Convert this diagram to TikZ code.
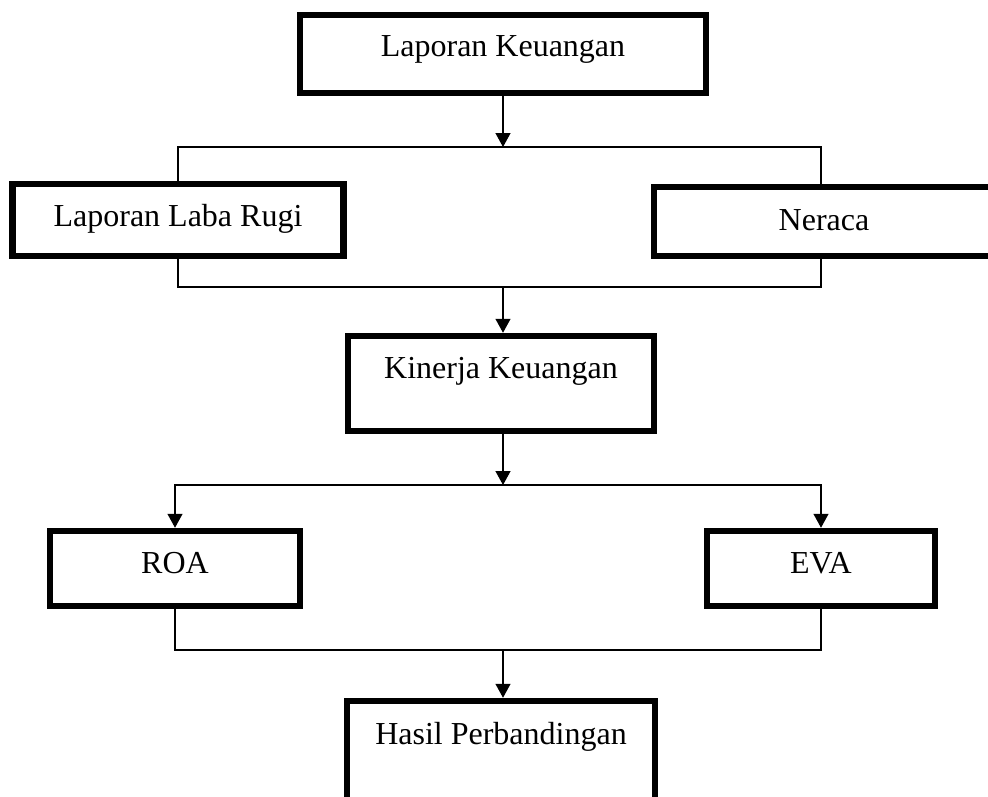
\documentclass[tikz,border=0pt]{standalone}
\usepackage{fontspec}
\setmainfont{Liberation Serif}
\usetikzlibrary{arrows.meta}
\begin{document}
\begin{tikzpicture}[x=1pt,y=-1pt,
    kotak/.style={draw,line width=6.5pt,inner sep=0pt,anchor=base,
      font=\fontsize{32}{38}\selectfont},
    garis/.style={line width=1.3pt},
    panah/.style={garis,-{Triangle[length=14pt,width=15pt]}}]
      \useasboundingbox (0,0) rectangle (988,796);
      \clip (0,0) rectangle (988,796);
      % kotak-kotak
      \node[kotak,minimum width=406pt,text height=41pt,text depth=37pt] (lapkeu) at (503,56) {Laporan Keuangan};
      \node[kotak,minimum width=331pt,text height=42pt,text depth=30pt] (labarugi) at (178,226) {Laporan Laba Rugi};
      \node[kotak,minimum width=340pt,text height=43pt,text depth=26pt] (neraca) at (824,230) {Neraca};
      \node[kotak,minimum width=306pt,text height=42pt,text depth=53pt] (kinerja) at (501,378) {Kinerja Keuangan};
      \node[kotak,minimum width=250pt,text height=42pt,text depth=33pt] (roa) at (175,573) {ROA};
      \node[kotak,minimum width=228pt,text height=42pt,text depth=33pt] (eva) at (821,573) {EVA};
      \node[kotak,minimum width=308pt,text height=43pt,text depth=87pt] (hasil) at (501,744) {Hasil Perbandingan};
      % titik cabang
      \coordinate (j1) at (503,147);
      \coordinate (j2) at (503,287);
      \coordinate (j3) at (503,485);
      \coordinate (j4) at (503,650);
      % penghubung
      \draw[panah] (lapkeu.south -| j1) -- (j1);
      \draw[garis] (labarugi.north) |- (j1) -| (neraca.north -| eva.north);
      \draw[garis] (labarugi.south) |- (j2) -| (neraca.south -| eva.south);
      \draw[panah] (j2) -- (j2 |- kinerja.north);
      \draw[panah] (kinerja.south -| j3) -- (j3);
      \draw[panah] (j3) -| (roa.north);
      \draw[panah] (j3) -| (eva.north);
      \draw[garis] (roa.south) |- (j4) -| (eva.south);
      \draw[panah] (j4) -- (j4 |- hasil.north);
\end{tikzpicture}
\end{document}
